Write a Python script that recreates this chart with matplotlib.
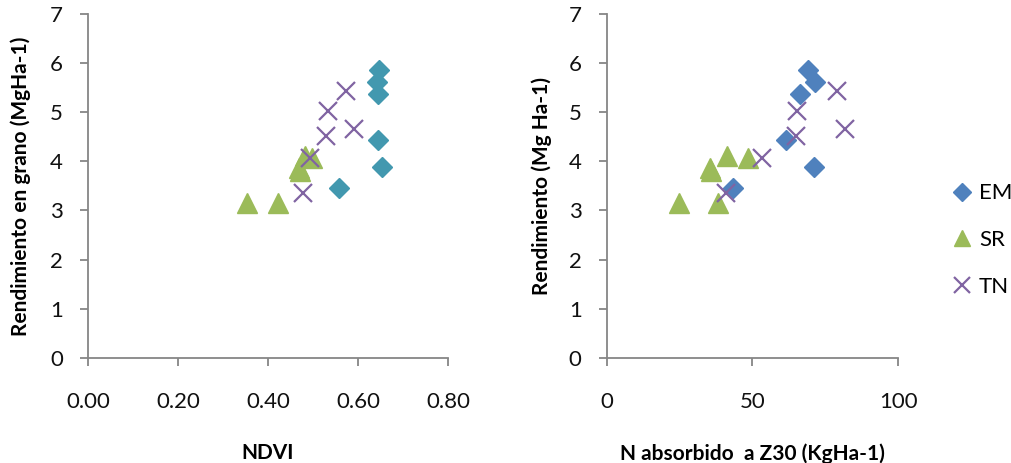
import matplotlib.pyplot as plt
import numpy as np

plt.rcParams['font.family'] = ['Lato', 'DejaVu Sans']

# yield values (Mg/ha) per treatment
em_y = np.array([5.85, 5.61, 5.37, 4.44, 3.89, 3.46])
sr_y = np.array([3.15, 3.15, 3.86, 3.80, 4.10, 4.07])
tn_y = np.array([5.44, 5.02, 4.66, 4.52, 4.06, 3.35])

# NDVI
em_ndvi = np.array([0.647, 0.642, 0.645, 0.645, 0.653, 0.558])
sr_ndvi = np.array([0.353, 0.421, 0.468, 0.470, 0.481, 0.497])
tn_ndvi = np.array([0.573, 0.532, 0.590, 0.528, 0.493, 0.478])

# N absorbido a Z30 (kg/ha)
em_n = np.array([69.1, 71.6, 66.3, 61.5, 71.1, 43.4])
sr_n = np.array([24.8, 38.2, 35.4, 35.7, 41.4, 48.3])
tn_n = np.array([79.0, 65.4, 81.8, 64.9, 53.1, 40.8])

sr_color = '#9BBB59'
tn_color = '#8064A2'
axis_gray = '#868686'

fig = plt.figure(figsize=(10.11, 4.63), dpi=100)
ax1 = fig.add_axes([0.0870, 0.2274, 0.3564, 0.7424])
ax2 = fig.add_axes([0.6001, 0.2274, 0.2884, 0.7424])


def style(ax):
    for s in ['top', 'right']:
        ax.spines[s].set_visible(False)
    for s in ['left', 'bottom']:
        ax.spines[s].set_color(axis_gray)
        ax.spines[s].set_linewidth(1.3)
    ax.set_ylim(0, 7)
    ax.set_yticks(range(0, 8))
    ax.tick_params(axis='both', direction='out', length=6, width=1.3,
                   color=axis_gray, labelsize=16, labelcolor='#111111')
    ax.tick_params(axis='x', pad=19)
    ax.tick_params(axis='y', pad=12)


ax1.plot(em_ndvi, em_y, 'D', color='#4298AF', ms=10.5, ls='none')
ax1.plot(sr_ndvi, sr_y, '^', color=sr_color, ms=14, ls='none')
ax1.plot(tn_ndvi, tn_y, 'x', color=tn_color, ms=13, mew=1.6, ls='none')
ax1.set_xlim(0, 0.8)
ax1.set_xticks([0, 0.2, 0.4, 0.6, 0.8])
ax1.set_xticklabels(['0.00', '0.20', '0.40', '0.60', '0.80'])
style(ax1)
ax1.set_xlabel('NDVI', fontsize=15, fontweight='bold', labelpad=22)
ax1.set_ylabel('Rendimiento en grano (MgHa-1)', fontsize=15, fontweight='bold', labelpad=14)

h1, = ax2.plot(em_n, em_y, 'D', color='#4F81BD', ms=10.5, ls='none', label='EM')
h2, = ax2.plot(sr_n, sr_y, '^', color=sr_color, ms=14, ls='none', label='SR')
h3, = ax2.plot(tn_n, tn_y, 'x', color=tn_color, ms=13, mew=1.6, ls='none', label='TN')
ax2.set_xlim(0, 100)
ax2.set_xticks([0, 50, 100])
style(ax2)
ax2.set_xlabel('N absorbido  a Z30 (KgHa-1)', fontsize=15, fontweight='bold', labelpad=22)
ax2.set_ylabel('Rendimiento (Mg Ha-1)', fontsize=15, fontweight='bold', labelpad=12)

fig.legend(handles=[h1, h2, h3], loc='upper left', bbox_to_anchor=(0.922, 0.647),
           frameon=False, fontsize=16, labelspacing=1.2, handlelength=0.9,
           handletextpad=0.3, markerscale=0.85)

fig.savefig('out.png', dpi=100)
